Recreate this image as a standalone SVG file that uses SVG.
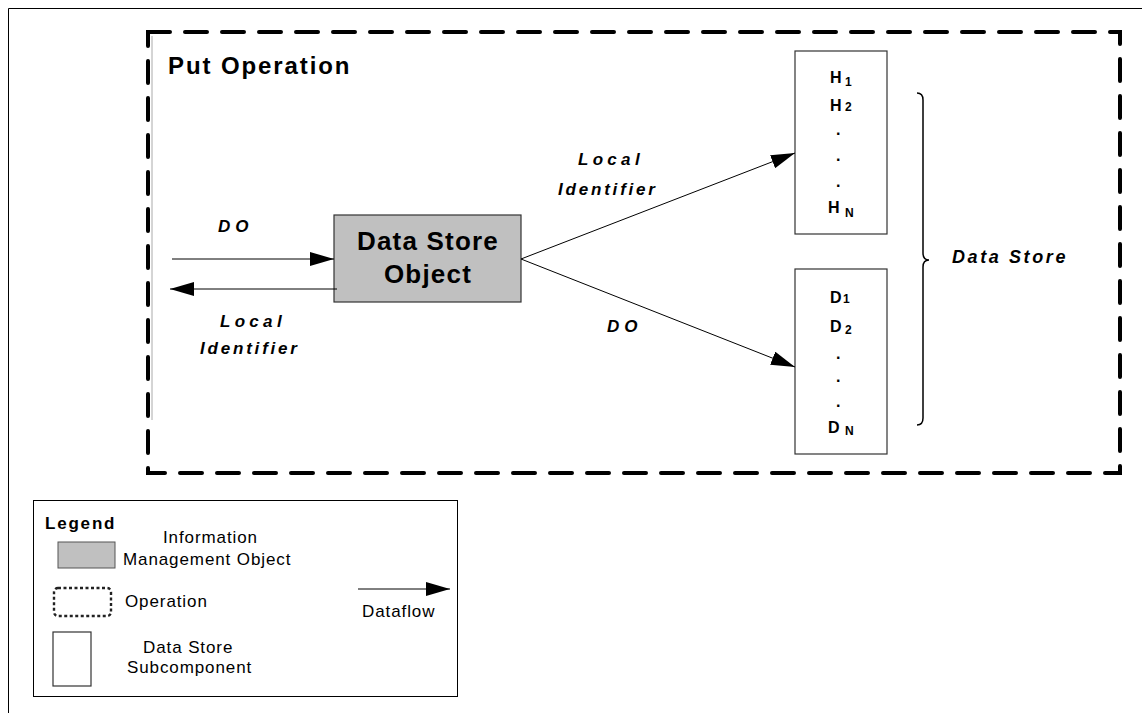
<svg xmlns="http://www.w3.org/2000/svg" width="1142" height="713" viewBox="0 0 1142 713">
<style>
  text { font-family: "Liberation Sans", Arial, sans-serif; fill: #000; }
  .lbl { font-weight: bold; font-style: italic; font-size: 17px; }
  .sub { font-weight: bold; font-size: 16px; }
  .subs { font-weight: bold; font-size: 12px; }
  .leg { font-size: 17px; letter-spacing: 0.9px; }
  .flow { stroke: #000; stroke-width: 1; fill: none; }
  .box { fill: #fff; stroke: #333; stroke-width: 1.2; }
</style>
<defs>
  <marker id="arr" markerUnits="userSpaceOnUse" markerWidth="24" markerHeight="14" refX="24" refY="7" orient="auto">
    <path d="M0,0 L24,7 L0,14 z" fill="#000"/>
  </marker>
</defs>
<rect x="0" y="0" width="1142" height="713" fill="#fff"/>
<g id="page-frame">
  <path d="M8.5,713 L8.5,8.5 L1142,8.5" fill="none" stroke="#000" stroke-width="1"/>
</g>
<g id="put-operation">
  <line x1="152" y1="36" x2="152" y2="420" stroke="#aaa" stroke-width="1"/>
  <rect x="148" y="32" width="972" height="441" fill="none" stroke="#000" stroke-width="4" stroke-dasharray="22 15" stroke-linecap="round"/>
  <text x="168" y="74" style="font-weight:bold;font-size:24px;letter-spacing:1.9px">Put Operation</text>
</g>
<g id="data-store-object">
  <rect x="334" y="215" width="187" height="87" fill="#c0c0c0" stroke="#333" stroke-width="1.2"/>
  <text x="428" y="250" text-anchor="middle" style="font-weight:bold;font-size:26px;letter-spacing:1.2px">Data Store</text>
  <text x="428" y="283" text-anchor="middle" style="font-weight:bold;font-size:26px;letter-spacing:1.2px">Object</text>
</g>
<g id="h-store">
  <rect class="box" x="795" y="51" width="92" height="183"/>
  <text class="sub" x="830" y="83">H</text><text class="subs" x="845" y="86">1</text>
  <text class="sub" x="830" y="111">H</text><text class="subs" x="845" y="111">2</text>
  <text class="sub" x="836" y="135">.</text>
  <text class="sub" x="836" y="161">.</text>
  <text class="sub" x="836" y="187">.</text>
  <text class="sub" x="828" y="213">H</text><text class="subs" x="845" y="217">N</text>
</g>
<g id="d-store">
  <rect class="box" x="795" y="269" width="92" height="185"/>
  <text class="sub" x="830" y="303">D</text><text class="subs" x="843" y="303">1</text>
  <text class="sub" x="830" y="332">D</text><text class="subs" x="845" y="334">2</text>
  <text class="sub" x="836" y="359">.</text>
  <text class="sub" x="836" y="382">.</text>
  <text class="sub" x="836" y="407">.</text>
  <text class="sub" x="828" y="433">D</text><text class="subs" x="845" y="435">N</text>
</g>
<g id="data-store-brace">
  <path d="M917,93 Q923,93 923,100 L923,253 Q923,260 929,260 Q923,260 923,267 L923,418 Q923,425 917,425" fill="none" stroke="#000" stroke-width="1.5"/>
  <text class="lbl" x="952" y="263" style="font-size:18px;letter-spacing:2.6px">Data Store</text>
</g>
<g id="connectors">
  <line class="flow" x1="172" y1="259" x2="334" y2="259" marker-end="url(#arr)"/>
  <line class="flow" x1="337" y1="289" x2="170" y2="289" marker-end="url(#arr)"/>
  <line class="flow" x1="521" y1="259" x2="795" y2="153" marker-end="url(#arr)"/>
  <line class="flow" x1="521" y1="259" x2="795" y2="367" marker-end="url(#arr)"/>
  <text class="lbl" x="218" y="232" style="letter-spacing:5px">DO</text>
  <text class="lbl" x="220" y="327" style="letter-spacing:4.3px">Local</text>
  <text class="lbl" x="200" y="354" style="letter-spacing:2.8px">Identifier</text>
  <text class="lbl" x="578" y="165" style="letter-spacing:4.3px">Local</text>
  <text class="lbl" x="558" y="195" style="letter-spacing:2.8px">Identifier</text>
  <text class="lbl" x="607" y="332" style="letter-spacing:5px">DO</text>
</g>
<g id="legend">
  <rect x="33.5" y="500.5" width="424" height="196" fill="#fff" stroke="#000" stroke-width="1"/>
  <text x="45" y="529" style="font-weight:bold;font-size:17px;letter-spacing:1.8px">Legend</text>
  <rect x="58" y="542" width="57" height="26" fill="#c0c0c0" stroke="#555" stroke-width="1"/>
  <text class="leg" x="163" y="543">Information</text>
  <text class="leg" x="123" y="565">Management Object</text>
  <rect x="54" y="588" width="57" height="28" rx="4" fill="none" stroke="#222" stroke-width="2.4" stroke-dasharray="3 2.5"/>
  <text class="leg" x="125" y="607">Operation</text>
  <line class="flow" x1="358" y1="589" x2="450" y2="589" marker-end="url(#arr)"/>
  <text class="leg" x="362" y="617">Dataflow</text>
  <rect class="box" x="53" y="632" width="38" height="54"/>
  <text class="leg" x="143" y="653">Data Store</text>
  <text class="leg" x="127" y="673">Subcomponent</text>
</g>
</svg>
